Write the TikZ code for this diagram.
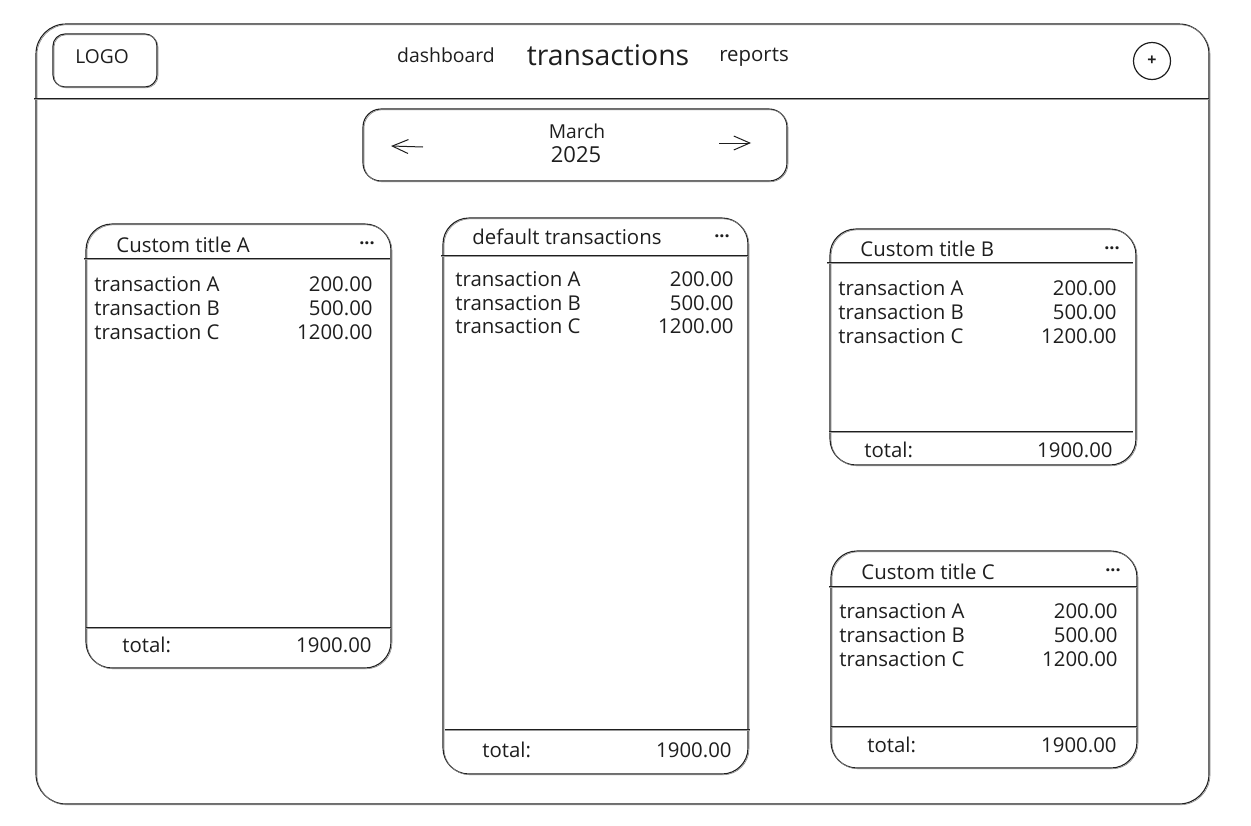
\documentclass[tikz,border=0pt]{standalone}
\usepackage{fontspec}
\setmainfont{Open Sans}
\usepackage{tikz}
\usetikzlibrary{arrows.meta,positioning}
\definecolor{ink}{HTML}{1E1E1E}

\begin{document}
\begin{tikzpicture}[
  x=0.5pt, y=-0.5pt,
  every node/.style={font=\fontsize{10.2}{12}\selectfont, text=ink, inner sep=0pt},
  sketchbox/.style={draw=ink, line width=0.55pt, anchor=north west, outer sep=0pt, rounded corners=13pt,
    postaction={draw=ink!55, line width=0.3pt, transform canvas={xshift=0.5pt, yshift=-0.4pt}}},
  divider/.style={draw=ink, line width=0.5pt,
    postaction={draw=ink!45, line width=0.4pt, transform canvas={yshift=-0.8pt}}},
  rowlabel/.style={anchor=west},
  rowvalue/.style={anchor=east},
  menudots/.style={font=\fontsize{9}{11}\selectfont\bfseries},
  navarrow/.style={draw=ink, line width=0.5pt, -{Straight Barb[length=8pt, width=7pt]}},
]
\useasboundingbox (0,0) rectangle (1251,825);
% Frame and top bar
\node[sketchbox, rounded corners=15pt, minimum width=586.5pt, minimum height=390pt] (frame) at (36,24) {};
\coordinate (navl) at (34,98);
\coordinate (navr) at (1209,98);
\draw[divider] (navl) -- (navr);
\node[sketchbox, rounded corners=6pt, minimum width=52pt, minimum height=26.5pt] (logobox) at (53,34) {};
\node[rowlabel, font=\fontsize{9.6}{11}\selectfont] (logo) at (75,57) {LOGO};
\node[font=\fontsize{9.7}{11}\selectfont] (dashboard) at (446,55) {dashboard};
\node[font=\fontsize{14.2}{16}\selectfont] (transactions) at (608,55) {transactions};
\node (reports) at (754,57) {reports};
\node[draw=ink, line width=0.6pt, circle, minimum size=18.5pt, font=\fontsize{8}{9}\selectfont\bfseries] (addbtn) at (1152,61) {+};
% Month picker
\node[sketchbox, rounded corners=9pt, minimum width=212pt, minimum height=36pt] (monthbox) at (363,109) {};
\node[font=\fontsize{9.6}{11}\selectfont] (month) at (577,131) {March};
\node[font=\fontsize{11}{13}\selectfont] (year) at (576,155) {2025};
\coordinate (prevs) at (423,147);
\coordinate (preve) at (391,146);
\coordinate (nexts) at (719,143);
\coordinate (nexte) at (751,143);
\draw[navarrow] (prevs) -- (preve);
\draw[navarrow] (nexts) -- (nexte);
% Card A
\node[sketchbox, minimum width=152.5pt, minimum height=222pt] (carda) at (86,224) {};
\coordinate (headal) at (84,258);
\coordinate (headar) at (390,258);
\coordinate (footal) at (86,627);
\coordinate (footar) at (391,627);
\draw[divider] (headal) -- (headar);
\draw[divider] (footal) -- (footar);
\node[rowlabel] (titlea) at (116,245) {Custom title A};
\node[menudots] (dotsa) at (367,243) {...};
\node[rowlabel] (rowaa) at (94,284) {transaction A};
\node[rowvalue] (valaa) at (373,284) {200.00};
\node[rowlabel] (rowab) at (94,308) {transaction B};
\node[rowvalue] (valab) at (373,308) {500.00};
\node[rowlabel] (rowac) at (94,332) {transaction C};
\node[rowvalue] (valac) at (373,332) {1200.00};
\node[rowlabel] (totala) at (122,645) {total:};
\node[rowvalue] (sumva) at (372,645) {1900.00};
% Default card
\node[sketchbox, minimum width=152.5pt, minimum height=278pt] (cardd) at (443,218) {};
\coordinate (headdl) at (441,255);
\coordinate (headdr) at (748,255);
\coordinate (footdl) at (445,729);
\coordinate (footdr) at (750,729);
\draw[divider] (headdl) -- (headdr);
\draw[divider] (footdl) -- (footdr);
\node[rowlabel] (titled) at (472,237) {default transactions};
\node[menudots] (dotsd) at (722,236) {...};
\node[rowlabel] (rowda) at (455,279) {transaction A};
\node[rowvalue] (valda) at (734,279) {200.00};
\node[rowlabel] (rowdb) at (455,303) {transaction B};
\node[rowvalue] (valdb) at (734,303) {500.00};
\node[rowlabel] (rowdc) at (455,326) {transaction C};
\node[rowvalue] (valdc) at (734,326) {1200.00};
\node[rowlabel] (totald) at (482,750) {total:};
\node[rowvalue] (sumvd) at (732,750) {1900.00};
% Card B
\node[sketchbox, minimum width=153pt, minimum height=118pt] (cardb) at (830,229) {};
\coordinate (headbl) at (827,262);
\coordinate (headbr) at (1133,262);
\coordinate (footbl) at (829,431);
\coordinate (footbr) at (1133,431);
\draw[divider] (headbl) -- (headbr);
\draw[divider] (footbl) -- (footbr);
\node[rowlabel] (titleb) at (860,249) {Custom title B};
\node[menudots] (dotsb) at (1112,248) {...};
\node[rowlabel] (rowba) at (838,288) {transaction A};
\node[rowvalue] (valba) at (1117,288) {200.00};
\node[rowlabel] (rowbb) at (838,312) {transaction B};
\node[rowvalue] (valbb) at (1117,312) {500.00};
\node[rowlabel] (rowbc) at (838,336) {transaction C};
\node[rowvalue] (valbc) at (1117,336) {1200.00};
\node[rowlabel] (totalb) at (864,450) {total:};
\node[rowvalue] (sumvb) at (1113,450) {1900.00};
% Card C
\node[sketchbox, minimum width=153pt, minimum height=108.5pt] (cardc) at (831,551) {};
\coordinate (headcl) at (829,586);
\coordinate (headcr) at (1137,586);
\coordinate (footcl) at (831,726);
\coordinate (footcr) at (1137,726);
\draw[divider] (headcl) -- (headcr);
\draw[divider] (footcl) -- (footcr);
\node[rowlabel] (titlec) at (861,572) {Custom title C};
\node[menudots] (dotsc) at (1113,570) {...};
\node[rowlabel] (rowca) at (839,611) {transaction A};
\node[rowvalue] (valca) at (1118,611) {200.00};
\node[rowlabel] (rowcb) at (839,635) {transaction B};
\node[rowvalue] (valcb) at (1118,635) {500.00};
\node[rowlabel] (rowcc) at (839,659) {transaction C};
\node[rowvalue] (valcc) at (1118,659) {1200.00};
\node[rowlabel] (totalc) at (867,745) {total:};
\node[rowvalue] (sumvc) at (1117,745) {1900.00};
\end{tikzpicture}
\end{document}
